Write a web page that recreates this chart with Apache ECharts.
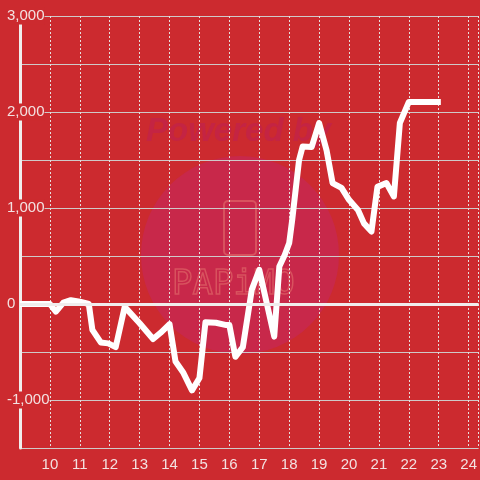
<!DOCTYPE html>
<html>
<head>
<meta charset="utf-8">
<script src="https://cdn.jsdelivr.net/npm/echarts@6/dist/echarts.min.js"></script>
<style>
html,body{margin:0;padding:0;background:#cc2a2f;}
#c{width:480px;height:480px;}
</style>
</head>
<body>
<div id="c"></div>
<script>
// time of day (hours) and cumulative value
var hours = [9.0, 10.0, 10.2, 10.45, 10.7, 11.0, 11.3, 11.42, 11.7, 11.95, 12.2, 12.5, 13.0, 13.45, 13.7, 14.0, 14.2, 14.45, 14.75, 15.0, 15.2, 15.55, 15.9, 16.0, 16.2, 16.45, 16.75, 17.0, 17.5, 17.67, 17.85, 18.0, 18.1, 18.33, 18.45, 18.75, 19.0, 19.25, 19.45, 19.75, 20.0, 20.3, 20.5, 20.75, 20.95, 21.25, 21.5, 21.7, 22.0, 23.07];
var values = [0, 0, -80, 15, 40, 25, 0, -270, -400, -410, -450, -30, -200, -365, -300, -210, -600, -710, -900, -770, -190, -195, -220, -220, -550, -450, 150, 355, -340, 390, 510, 635, 875, 1500, 1640, 1635, 1885, 1600, 1260, 1210, 1085, 980, 840, 755, 1220, 1260, 1120, 1885, 2105, 2105];
var yTicks = [3000, 2000, 1000, 0, -1000];
var xTicks = [10, 11, 12, 13, 14, 15, 16, 17, 18, 19, 20, 21, 22, 23, 24];

var BG = '#cc2a2f';
var TXT = '#f3e1e1';
var chart = echarts.init(document.getElementById('c'));
var pts = hours.map(function (h, i) { return [h, values[i]]; });

chart.setOption({
  backgroundColor: BG,
  animation: false,
  grid: { left: 20, right: 0, top: 16, bottom: 32, containLabel: false },
  graphic: [
    { type: 'circle', z: -1, shape: { cx: 240, cy: 255, r: 99 }, style: { fill: '#c8284a' } },
    { type: 'text', z: -1, x: 146, y: 115, style: { text: 'Powered by', fill: '#c42443', font: 'italic bold 33px "Liberation Sans", Arial, sans-serif' } },
    { type: 'rect', z: -1, shape: { x: 224, y: 201, width: 32, height: 54, r: 4 }, style: { fill: 'none', stroke: '#d8525e', lineWidth: 2 } },
    { type: 'text', z: -1, x: 172, y: 268, style: { text: 'PAPiMO', fill: 'none', stroke: '#d8525e', lineWidth: 1.5, font: '34px "DejaVu Sans Mono", monospace' } }
  ],
  xAxis: {
    type: 'value',
    min: 9, max: 24 + 1 / 3, interval: 1,
    axisLine: { show: false },
    axisTick: { show: false },
    axisLabel: {
      color: TXT, fontSize: 15, fontFamily: '"Liberation Sans", Arial, sans-serif', margin: 9,
      showMaxLabel: false,
      formatter: function (v) { return xTicks.indexOf(v) >= 0 ? String(v) : ''; }
    },
    splitLine: { show: true, lineStyle: { color: '#e6dede', width: 1, type: [2, 2] } }
  },
  yAxis: {
    type: 'value',
    min: -1500, max: 3000, interval: 500,
    axisLine: { show: true, lineStyle: { color: '#f0eeee', width: 3 } },
    axisTick: { show: false },
    axisLabel: {
      color: TXT, fontSize: 15, fontFamily: '"Liberation Sans", Arial, sans-serif',
      align: 'left', margin: 13, backgroundColor: BG, padding: [1, 0, 1, 0],
      formatter: function (v) { return yTicks.indexOf(v) >= 0 ? v.toLocaleString('en-US') : ''; }
    },
    splitLine: { show: true, lineStyle: { color: '#cfc9c9', width: 1 } }
  },
  series: [{
    type: 'line',
    data: pts,
    showSymbol: false,
    symbol: 'none',
    lineStyle: { color: '#ffffff', width: 6, join: 'round' },
    markLine: {
      silent: true, symbol: 'none', label: { show: false },
      lineStyle: { color: '#f0eded', width: 3, type: 'solid' },
      data: [{ yAxis: 0 }]
    }
  }]
});
</script>
</body>
</html>
